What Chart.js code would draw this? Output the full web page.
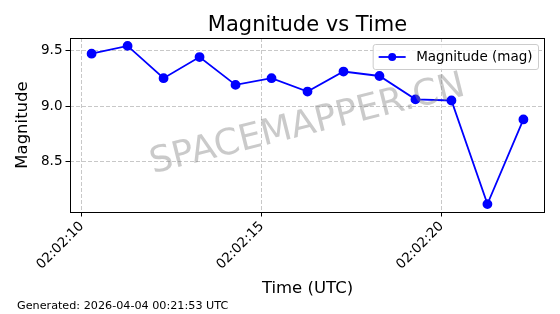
<!DOCTYPE html>
<html lang="en">
<head>
    <meta charset="UTF-8">
    <title>Magnitude vs Time</title>
    <script src="https://cdn.jsdelivr.net/npm/chart.js"></script>
    <style>
        html, body { margin: 0; padding: 0; background: #fff; }
        #magChart { display: block; }
    </style>
</head>
<body>
    <canvas id="magChart" width="560" height="314"></canvas>

    <script>
        // Seconds after 02:02:00 UTC
        const timeSec = [10.27, 11.27, 12.27, 13.27, 14.27, 15.27, 16.27, 17.27, 18.27, 19.27, 20.27, 21.27, 22.27];
        const magnitudes = [9.47, 9.54, 9.25, 9.44, 9.19, 9.25, 9.13, 9.31, 9.27, 9.06, 9.05, 8.12, 8.88];
        const xTickValues = [10, 15, 20];
        const yTickValues = [8.5, 9.0, 9.5];

        const FONT = 'DejaVu Sans';
        const GRID_COLOR = 'rgba(176, 176, 176, 0.7)';

        // matplotlib style 5% margins
        function paddedRange(values) {
            const lo = Math.min(...values), hi = Math.max(...values);
            const m = (hi - lo) * 0.05;
            return [lo - m, hi + m];
        }
        const [xMin, xMax] = paddedRange(timeSec);
        const [yMin, yMax] = paddedRange(magnitudes);

        function fmtTime(sec) {
            return '02:02:' + String(Math.round(sec)).padStart(2, '0');
        }

        // title, frame, watermark, legend and footer drawn like matplotlib
        const decorations = {
            id: 'decorations',
            afterDraw(chart) {
                const { ctx, chartArea: a } = chart;
                const cx = (a.left + a.right) / 2;

                ctx.save();
                // frame on all four sides
                ctx.strokeStyle = '#000';
                ctx.lineWidth = 1;
                ctx.strokeRect(a.left + 0.5, a.top + 0.5, a.right - a.left - 1, a.bottom - a.top);

                // title
                ctx.fillStyle = '#000';
                ctx.font = `21px "${FONT}"`;
                ctx.textAlign = 'center';
                ctx.textBaseline = 'alphabetic';
                ctx.fillText('Magnitude vs Time', cx, 31);

                // watermark
                ctx.save();
                ctx.translate(cx, (a.top + a.bottom) / 2);
                ctx.rotate(-14 * Math.PI / 180);
                ctx.font = `36px "${FONT}"`;
                ctx.fillStyle = 'rgba(128, 128, 128, 0.42)';
                ctx.textBaseline = 'middle';
                ctx.fillText('SPACEMAPPER.CN', 0, 0);
                ctx.restore();

                // legend box, upper right
                const ds = chart.data.datasets[0];
                ctx.font = `13.5px "${FONT}"`;
                const tw = ctx.measureText(ds.label).width;
                const bw = 5.5 + 27 + 10.5 + tw + 6;
                const bh = 25;
                const bx = a.right - 6.5 - bw;
                const by = a.top + 6.5;
                ctx.beginPath();
                ctx.roundRect(bx, by, bw, bh, 2.5);
                ctx.fillStyle = 'rgba(255, 255, 255, 0.8)';
                ctx.fill();
                ctx.strokeStyle = '#cccccc';
                ctx.stroke();
                const ly = by + bh / 2;
                ctx.beginPath();
                ctx.moveTo(bx + 5.5, ly);
                ctx.lineTo(bx + 32.5, ly);
                ctx.strokeStyle = ds.borderColor;
                ctx.lineWidth = ds.borderWidth;
                ctx.stroke();
                ctx.beginPath();
                ctx.arc(bx + 19, ly, ds.pointRadius, 0, Math.PI * 2);
                ctx.fillStyle = ds.backgroundColor;
                ctx.fill();
                ctx.fillStyle = '#000';
                ctx.textAlign = 'left';
                ctx.textBaseline = 'middle';
                ctx.fillText(ds.label, bx + 43, ly + 0.5);

                // footer
                ctx.font = `11.2px "${FONT}"`;
                ctx.textBaseline = 'alphabetic';
                ctx.fillText('Generated: 2026-04-04 00:21:53 UTC', 17, 308.5);
                ctx.restore();
            }
        };

        new Chart(document.getElementById('magChart').getContext('2d'), {
            type: 'line',
            data: {
                datasets: [{
                    label: 'Magnitude (mag)',
                    data: timeSec.map((t, i) => ({ x: t, y: magnitudes[i] })),
                    borderColor: '#0000ff',
                    backgroundColor: '#0000ff',
                    borderWidth: 1.8,
                    pointRadius: 4,
                    pointHoverRadius: 4,
                    tension: 0
                }]
            },
            options: {
                responsive: false,
                animation: false,
                events: [],
                layout: { padding: { left: 0, right: 15, top: 38, bottom: 0 } },
                plugins: {
                    legend: { display: false },
                    title: { display: false },
                    tooltip: { enabled: false }
                },
                scales: {
                    x: {
                        type: 'linear',
                        min: xMin,
                        max: xMax,
                        afterBuildTicks: s => { s.ticks = xTickValues.map(v => ({ value: v })); },
                        afterFit: s => { s.height = 102; },
                        ticks: {
                            callback: v => fmtTime(v),
                            autoSkip: false,
                            minRotation: 45,
                            maxRotation: 45,
                            padding: 2,
                            color: '#000',
                            font: { family: FONT, size: 13.5 }
                        },
                        grid: { color: GRID_COLOR, tickColor: '#000', tickLength: 4.5, tickWidth: 1 },
                        border: { display: false, dash: [4, 2] },
                        title: {
                            display: true,
                            text: 'Time (UTC)',
                            color: '#000',
                            font: { family: FONT, size: 16.5 },
                            padding: { top: 0, bottom: 15.2 }
                        }
                    },
                    y: {
                        min: yMin,
                        max: yMax,
                        afterBuildTicks: s => { s.ticks = yTickValues.map(v => ({ value: v })); },
                        afterFit: s => { s.width = 70; },
                        ticks: {
                            callback: v => v.toFixed(1),
                            padding: 3,
                            color: '#000',
                            font: { family: FONT, size: 13.5 }
                        },
                        grid: { color: GRID_COLOR, tickColor: '#000', tickLength: 4.5, tickWidth: 1 },
                        border: { display: false, dash: [4, 2] },
                        title: {
                            display: true,
                            text: 'Magnitude',
                            color: '#000',
                            font: { family: FONT, size: 16.5 },
                            padding: { top: 13, bottom: 0 }
                        }
                    }
                }
            },
            plugins: [decorations]
        });
    </script>
</body>
</html>
